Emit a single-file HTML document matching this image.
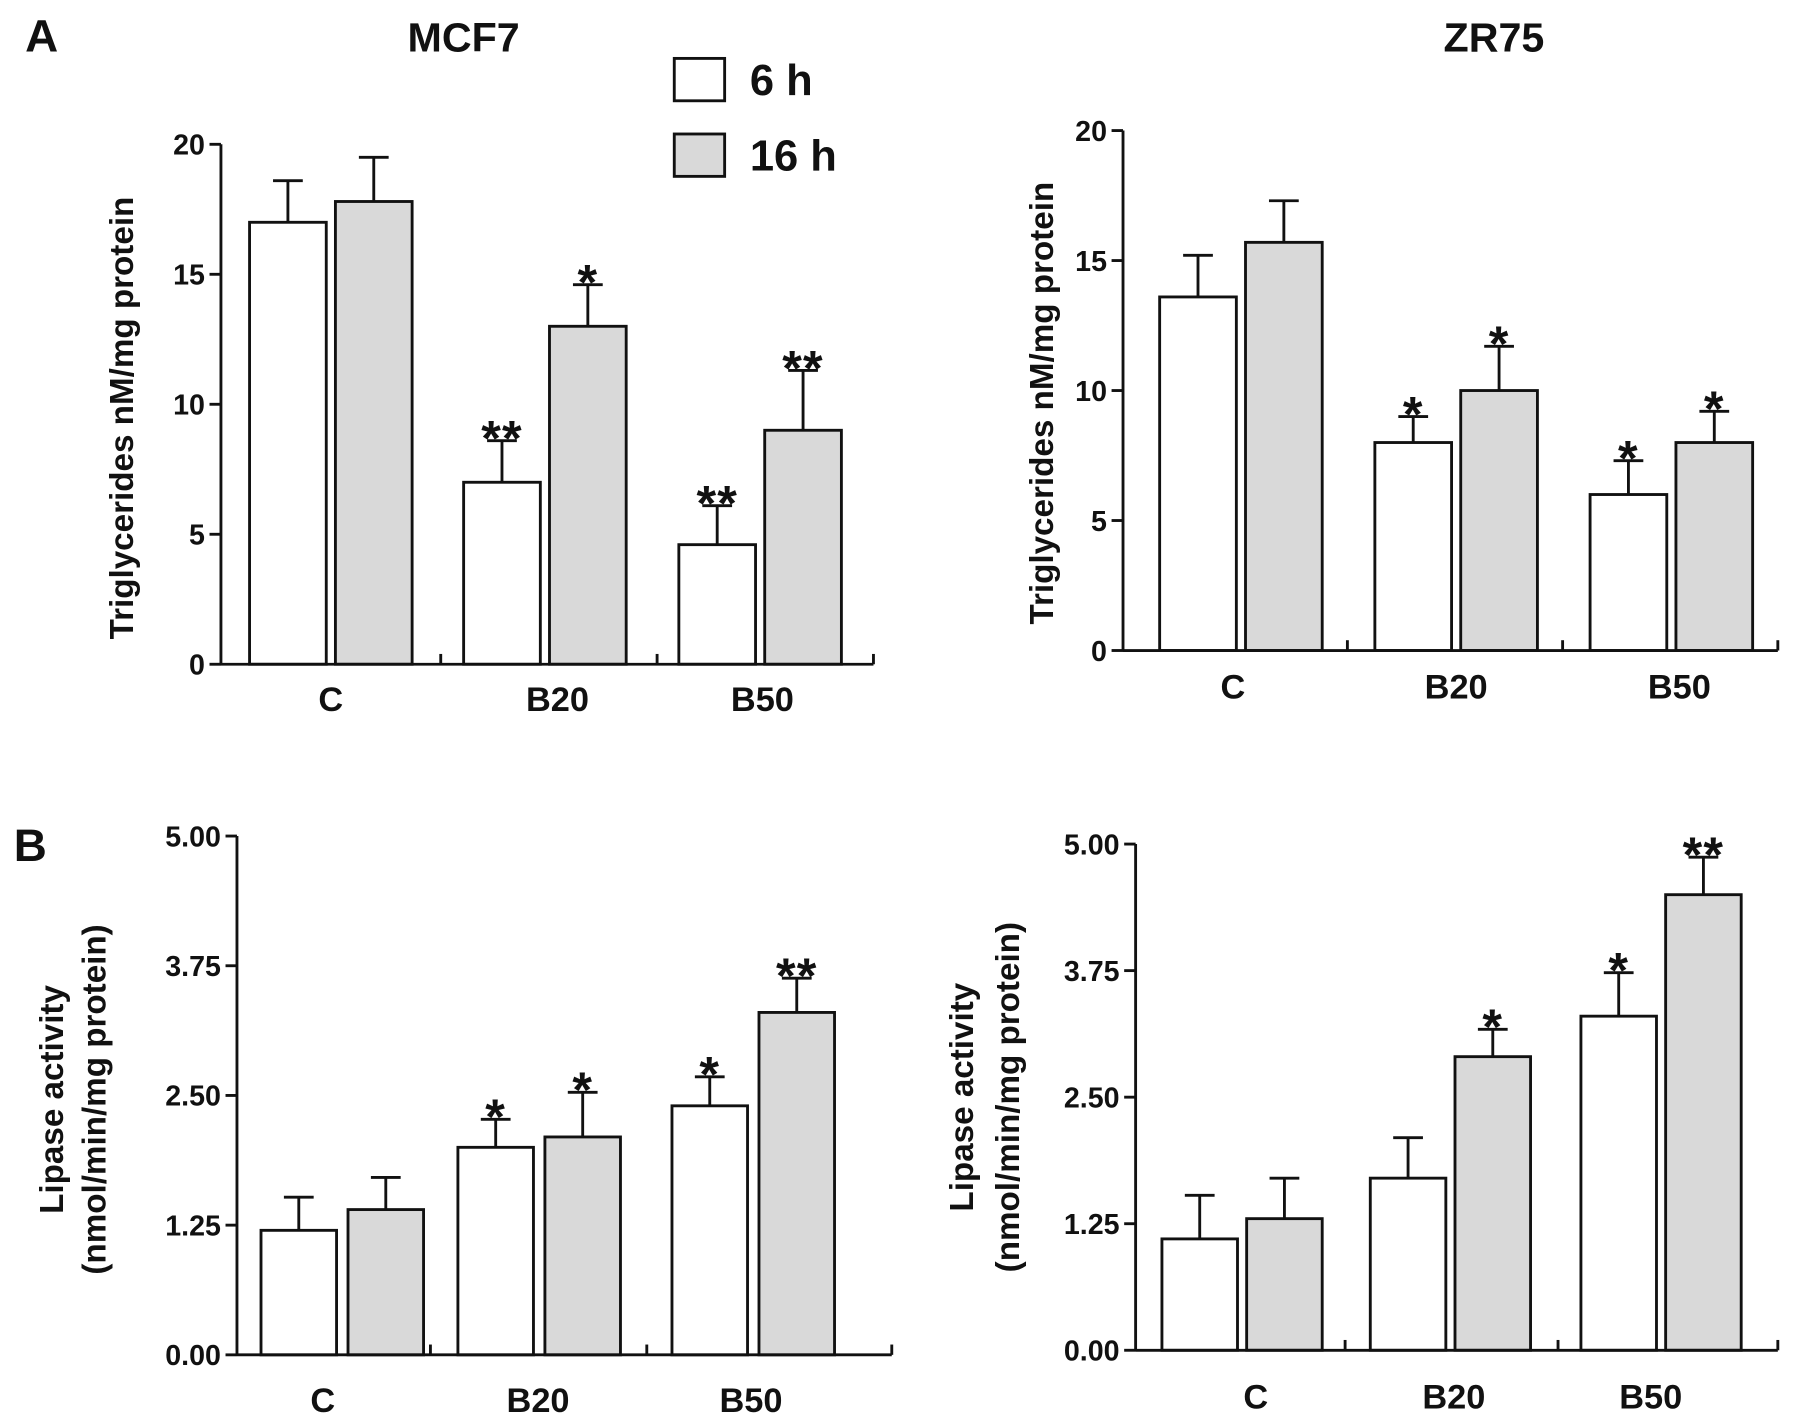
<!DOCTYPE html>
<html><head><meta charset="utf-8"><style>
html,body{margin:0;padding:0;background:#fff}
svg{display:block}
text{font-family:"Liberation Sans",Arial,sans-serif;font-weight:bold;fill:#111}
</style></head><body>
<svg id="fig" width="1795" height="1427" viewBox="0 0 1568 1246" preserveAspectRatio="none" xmlns="http://www.w3.org/2000/svg"></svg>
<script>
const categories = ["C","B20","B50"];
const seriesNames = ["6 h","16 h"];
// Panel A MCF7
const mcfTg6 = [17, 7, 4.6];
const mcfTg16 = [17.8, 13, 9];
const mcfTgErr6 = [1.6, 1.6, 1.5];
const mcfTgErr16 = [1.7, 1.6, 2.3];
const mcfTgStars6 = ["", "**", "**"];
const mcfTgStars16 = ["", "*", "**"];
// Panel A ZR75
const zrTg6 = [13.6, 8, 6];
const zrTg16 = [15.7, 10, 8];
const zrTgErr6 = [1.6, 1.0, 1.3];
const zrTgErr16 = [1.6, 1.7, 1.2];
const zrTgStars6 = ["", "*", "*"];
const zrTgStars16 = ["", "*", "*"];
const tgTicks = [0, 5, 10, 15, 20];
// Panel B MCF7
const mcfLp6 = [1.2, 2.0, 2.4];
const mcfLp16 = [1.4, 2.1, 3.3];
const mcfLpErr6 = [0.32, 0.27, 0.28];
const mcfLpErr16 = [0.31, 0.43, 0.33];
const mcfLpStars6 = ["", "*", "*"];
const mcfLpStars16 = ["", "*", "**"];
// Panel B ZR75
const zrLp6 = [1.1, 1.7, 3.3];
const zrLp16 = [1.3, 2.9, 4.5];
const zrLpErr6 = [0.43, 0.4, 0.43];
const zrLpErr16 = [0.4, 0.27, 0.37];
const zrLpStars6 = ["", "", "*"];
const zrLpStars16 = ["", "*", "**"];
const lpTicks = ["0.00","1.25","2.50","3.75","5.00"];

const NS = "http://www.w3.org/2000/svg";
const svg = document.getElementById("fig");
function el(tag, attrs, parent, txt){
  const e = document.createElementNS(NS, tag);
  for (const k in attrs) e.setAttribute(k, attrs[k]);
  if (txt !== undefined) e.textContent = txt;
  (parent || svg).appendChild(e);
  return e;
}
function panel(o){
  const g = el("g", {});
  
  
  const y = v => o.y0 - (v / o.max) * (o.y0 - o.yTop);
  categories.forEach((c, i) => {
    [[o.v6, o.e6, o.s6, "#fff", 0], [o.v16, o.e16, o.s16, "#d9d9d9", 1]].forEach(([vals, errs, stars, fill, s]) => {
      const bx = o.barX[i] + s * o.step;
      const top = y(vals[i]);
      const r = el("rect", {x: bx, y: top, width: o.bw, height: o.y0 - top, fill: fill, stroke: "#111", "stroke-width": 2.5}, g);
      
      
      const cx = bx + o.bw / 2, et = y(vals[i] + errs[i]);
      el("line", {x1: cx, x2: cx, y1: top, y2: et, stroke: "#111", "stroke-width": 2.5}, g);
      el("line", {x1: cx - 13, x2: cx + 13, y1: et, y2: et, stroke: "#111", "stroke-width": 2.5}, g);
      if (stars[i]) {
        const t = el("text", {x: cx, y: et + 13, "text-anchor": "middle", "font-size": 44, "letter-spacing": "1"}, g, stars[i]);
        
        
      }
    });
    const lb = el("text", {x: o.labX[i], y: o.labY, "text-anchor": "middle", "font-size": 30}, g, c);
    
    
  });
  el("line", {x1: o.x0, x2: o.x0, y1: o.yTop, y2: o.y0 + 1, stroke: "#111", "stroke-width": 2.5}, g);
  el("line", {x1: o.x0, x2: o.xEnd, y1: o.y0, y2: o.y0, stroke: "#111", "stroke-width": 2.5}, g);
  o.xTicks.forEach(tx => el("line", {x1: tx, x2: tx, y1: o.y0, y2: o.y0 - 9, stroke: "#111", "stroke-width": 2.5}, g));
  o.ticks.forEach((t, i) => {
    const v = o.max * i / (o.ticks.length - 1);
    const ty = y(v);
    el("line", {x1: o.x0 - 10, x2: o.x0, y1: ty, y2: ty, stroke: "#111", "stroke-width": 2.5}, g);
    const tl = el("text", {x: o.x0 - 14, y: ty + 9, "text-anchor": "end", "font-size": 25}, g, t);
    
    
  });
  o.yLabel.forEach((l, i) => {
    const lx = o.yLabX[i];
    const t = el("text", {x: lx, y: o.yLabY, "text-anchor": "middle", "font-size": 29, transform: `rotate(-90 ${lx} ${o.yLabY})`}, g, l);
    
    
  });
}
panel({name:"chart-a-mcf7", x0:193, xEnd:763, y0:580, yTop:126, max:20, ticks:tgTicks,
  xTicks:[385,574,763], barX:[218,405,593], step:75, bw:67, v6:mcfTg6, v16:mcfTg16, e6:mcfTgErr6, e16:mcfTgErr16,
  s6:mcfTgStars6, s16:mcfTgStars16, labX:[289,487,666], labY:621, yLabel:["Triglycerides nM/mg protein"], yLabX:[116], yLabY:365});
panel({name:"chart-a-zr75", x0:981, xEnd:1553, y0:568, yTop:114, max:20, ticks:tgTicks,
  xTicks:[1177,1365,1553], barX:[1013,1201,1389], step:75, bw:67, v6:zrTg6, v16:zrTg16, e6:zrTgErr6, e16:zrTgErr16,
  s6:zrTgStars6, s16:zrTgStars16, labX:[1077,1272,1467], labY:610, yLabel:["Triglycerides nM/mg protein"], yLabX:[920], yLabY:352});
panel({name:"chart-b-mcf7", x0:207, xEnd:779, y0:1183, yTop:730, max:5, ticks:lpTicks,
  xTicks:[376,565,779], barX:[228,400,587], step:76, bw:66, v6:mcfLp6, v16:mcfLp16, e6:mcfLpErr6, e16:mcfLpErr16,
  s6:mcfLpStars6, s16:mcfLpStars16, labX:[282,470,656], labY:1233, yLabel:["Lipase activity","(nmol/min/mg protein)"], yLabX:[55,92], yLabY:960});
panel({name:"chart-b-zr75", x0:992, xEnd:1553, y0:1179, yTop:737, max:5, ticks:lpTicks,
  xTicks:[1175,1361,1553], barX:[1015,1197,1381], step:74, bw:66, v6:zrLp6, v16:zrLp16, e6:zrLpErr6, e16:zrLpErr16,
  s6:zrLpStars6, s16:zrLpStars16, labX:[1097,1270,1442], labY:1230, yLabel:["Lipase activity","(nmol/min/mg protein)"], yLabX:[850,890], yLabY:958});

function txt(x, y, s, size, name, anchor){
  const t = el("text", {x:x, y:y, "font-size":size, "text-anchor":anchor||"middle"}, svg, s);
  
  
}
txt(22, 45, "A", 40, "panel-label-a", "start");
txt(12, 752, "B", 40, "panel-label-b", "start");
txt(405, 45, "MCF7", 36, "title-mcf7");
txt(1305, 45, "ZR75", 36, "title-zr75");
const lg = el("g", {});


[["#fff", 51, seriesNames[0]], ["#d9d9d9", 117, seriesNames[1]]].forEach(([f, ly, n]) => {
  const r = el("rect", {x:589, y:ly, width:44, height:37, fill:f, stroke:"#111", "stroke-width":2.5}, lg);
  
  
  const t = el("text", {x:655, y:ly + 32, "font-size":38}, lg, n);
  
  
});
</script>
</body></html>
